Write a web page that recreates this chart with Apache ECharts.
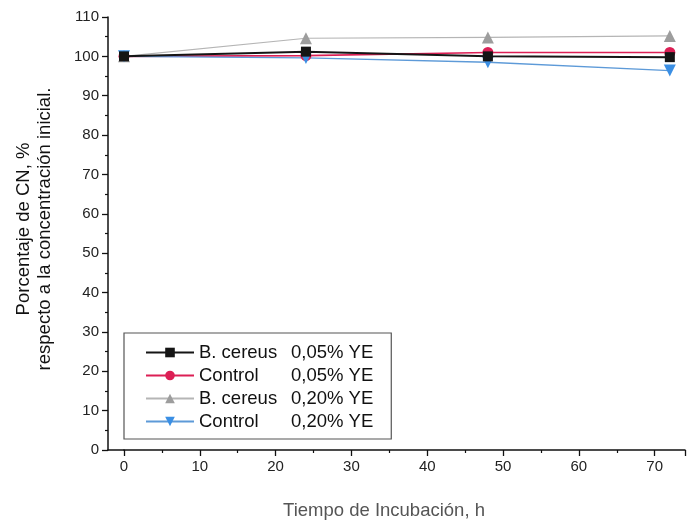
<!DOCTYPE html>
<html>
<head>
<meta charset="utf-8">
<script src="https://cdn.jsdelivr.net/npm/echarts@6/dist/echarts.min.js"></script>
<style>html,body{margin:0;padding:0;background:#fff;}#c{width:688px;height:525px;}</style>
</head>
<body>
<div id="c"></div>
<script>
const times = [0, 24, 48, 72];
const bc005 = [100, 101.2, 100.0, 99.8];
const ctl005 = [100, 100.2, 101.0, 101.0];
const bc020 = [100, 104.6, 104.8, 105.2];
const ctl020 = [100, 99.6, 98.5, 96.4];
const seriesNames = ['B. cereus 0,05% YE', 'Control 0,05% YE', 'B. cereus 0,20% YE', 'Control 0,20% YE'];
const legendParts = {
  'B. cereus 0,05% YE': ['B. cereus', '0,05% YE'],
  'Control 0,05% YE': ['Control', '0,05% YE'],
  'B. cereus 0,20% YE': ['B. cereus', '0,20% YE'],
  'Control 0,20% YE': ['Control', '0,20% YE']
};
const xTitle = 'Tiempo de Incubación, h';
const yTitle = ['Porcentaje de CN, %', 'respecto a la concentración inicial.'];

const pts = arr => times.map((t, i) => [t, arr[i]]);
const font = 'Liberation Sans, Arial, sans-serif';

const chart = echarts.init(document.getElementById('c'), null, {renderer: 'canvas'});
chart.setOption({
  animation: false,
  backgroundColor: '#fff',
  grid: [
    {left: 124, right: 0, top: 17, bottom: 75, containLabel: false},
    {left: 108, width: 16, top: 17, bottom: 75, containLabel: false}
  ],
  xAxis: [{
    gridIndex: 0, type: 'value', min: 0, max: 74, interval: 10,
    axisLine: {show: true, onZero: false, lineStyle: {color: '#111', width: 1.5}},
    axisTick: {show: true, length: 6, lineStyle: {color: '#111', width: 1.3}},
    minorTick: {show: true, splitNumber: 2, length: 3, lineStyle: {color: '#111', width: 1.2}},
    splitLine: {show: false}, minorSplitLine: {show: false},
    axisLabel: {fontFamily: font, fontSize: 15, color: '#222', margin: 9,
      formatter: v => (v % 10 === 0 ? String(v) : '')}
  }, {
    gridIndex: 1, type: 'value', min: 0, max: 1,
    axisLine: {show: true, onZero: false, lineStyle: {color: '#111', width: 1.5}},
    axisTick: {show: false}, axisLabel: {show: false}, splitLine: {show: false}
  }],
  yAxis: [{
    gridIndex: 0, type: 'value', min: 0, max: 110, interval: 10, offset: 16,
    axisLine: {show: true, onZero: false, lineStyle: {color: '#111', width: 1.5}},
    axisTick: {show: true, length: 6, lineStyle: {color: '#111', width: 1.3}},
    minorTick: {show: true, splitNumber: 2, length: 3, lineStyle: {color: '#111', width: 1.2}},
    splitLine: {show: false}, minorSplitLine: {show: false},
    axisLabel: {fontFamily: font, fontSize: 15, color: '#222', margin: 9}
  }, {
    gridIndex: 1, type: 'value', min: 0, max: 110, show: false
  }],
  legend: {
    orient: 'vertical', left: 124, top: 333, width: 271,
    padding: [10, 18, 8, 21], itemGap: 4, itemWidth: 48, itemHeight: 12,
    borderColor: '#555', borderWidth: 1.2, borderRadius: 0,
    backgroundColor: '#fff',
    data: seriesNames,
    formatter: name => '{n|' + legendParts[name][0] + '}{v|' + legendParts[name][1] + '}',
    textStyle: {
      fontFamily: font, fontSize: 18.5, color: '#111', lineHeight: 19,
      rich: {
        n: {fontFamily: font, fontSize: 18.5, color: '#111', width: 92, lineHeight: 19},
        v: {fontFamily: font, fontSize: 18.5, color: '#111', lineHeight: 19}
      }
    }
  },
  graphic: [
    {type: 'text', left: 'center', x: 384, y: 511, style: {
      text: xTitle, x: 0, y: 0, fill: '#555', font: '18.5px ' + font,
      textAlign: 'center', textVerticalAlign: 'middle'}, position: [384, 511], left: null},
    {type: 'text', position: [34, 229], rotation: Math.PI / 2, style: {
      text: yTitle.join('\n'), fill: '#111', font: '18.5px ' + font,
      textAlign: 'center', textVerticalAlign: 'middle', lineHeight: 21}}
  ],
  series: [
    {name: seriesNames[0], type: 'line', xAxisIndex: 0, yAxisIndex: 0, data: pts(bc005),
      symbol: 'rect', symbolSize: 10, color: '#151515',
      lineStyle: {color: '#151515', width: 2}, itemStyle: {color: '#151515'}, z: 3},
    {name: seriesNames[1], type: 'line', xAxisIndex: 0, yAxisIndex: 0, data: pts(ctl005),
      symbol: 'circle', symbolSize: 11, color: '#dc1f55',
      lineStyle: {color: '#dc1f55', width: 1.6}, itemStyle: {color: '#dc1f55'}, z: 2},
    {name: seriesNames[2], type: 'line', xAxisIndex: 0, yAxisIndex: 0, data: pts(bc020),
      symbol: 'triangle', symbolSize: 12, color: '#9d9d9d',
      lineStyle: {color: '#b5b5b5', width: 1.2}, itemStyle: {color: '#9d9d9d'}, z: 2},
    {name: seriesNames[3], type: 'line', xAxisIndex: 0, yAxisIndex: 0, data: pts(ctl020),
      symbol: 'triangle', symbolRotate: 180, symbolSize: 12, color: '#3b8fe4',
      lineStyle: {color: '#5d9ad8', width: 1.3}, itemStyle: {color: '#3b8fe4'}, z: 2}
  ]
});
</script>
</body>
</html>
